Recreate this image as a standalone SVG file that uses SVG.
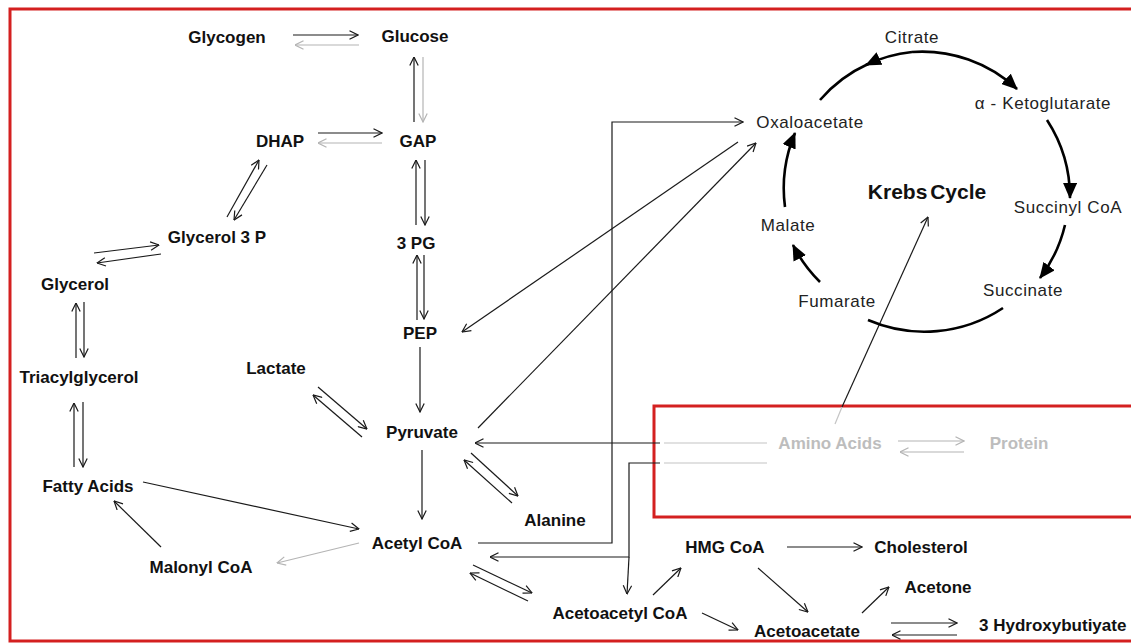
<svg xmlns="http://www.w3.org/2000/svg" width="1131" height="644" viewBox="0 0 1131 644">
  <style>
    .lbl { font-family: "Liberation Sans", Arial, sans-serif; font-weight: bold; font-size: 17px; fill: #111; text-anchor: middle; }
    .lbl-g { font-family: "Liberation Sans", Arial, sans-serif; font-weight: bold; font-size: 17px; fill: #bdbdbd; text-anchor: middle; }
    .kr { font-family: "Liberation Sans", Arial, sans-serif; font-size: 17px; fill: #222; text-anchor: middle; letter-spacing: 0.6px; }
    .kr-title { font-family: "Liberation Sans", Arial, sans-serif; font-weight: bold; font-size: 21px; fill: #111; text-anchor: middle; word-spacing: -3px; }
    .ln { fill: none; stroke: #1a1a1a; stroke-width: 1.2; marker-end: url(#ah); }
    .ln-plain { fill: none; stroke: #1a1a1a; stroke-width: 1.2; }
    .ln-g { fill: none; stroke: #b4b4b4; stroke-width: 1.2; marker-end: url(#ahg); }
    .ln-g-plain { fill: none; stroke: #c4c4c4; stroke-width: 1.2; }
    .cyc { fill: none; stroke: #000; stroke-width: 2.6; }
    .cyc-a { fill: none; stroke: #000; stroke-width: 2.6; marker-end: url(#tri); }
    .frame { fill: none; stroke: #d42020; stroke-width: 3; }
  </style>
  <defs>
    <marker id="ah" viewBox="0 0 10 10" refX="9.5" refY="5" markerWidth="10" markerHeight="10" markerUnits="userSpaceOnUse" orient="auto">
      <path d="M1,0.8 L9.5,5 L1,9.2" fill="none" stroke="#1a1a1a" stroke-width="1.2"/>
    </marker>
    <marker id="ahg" viewBox="0 0 10 10" refX="9.5" refY="5" markerWidth="10" markerHeight="10" markerUnits="userSpaceOnUse" orient="auto">
      <path d="M1,0.8 L9.5,5 L1,9.2" fill="none" stroke="#b4b4b4" stroke-width="1.2"/>
    </marker>
    <marker id="tri" viewBox="0 0 16 14" refX="15" refY="7" markerWidth="16" markerHeight="14" markerUnits="userSpaceOnUse" orient="auto">
      <path d="M0,0 L16,7 L0,14 z" fill="#000"/>
    </marker>
  </defs>

  <rect width="1131" height="644" fill="#fff"/>

  <!-- outer and amino-acid frames -->
  <rect class="frame" x="10" y="9" width="1130" height="632"/>
  <rect class="frame" x="654" y="406" width="500" height="111"/>

  <!-- connectors -->
  <g id="connectors">
    <!-- glycogen / glucose -->
    <path class="ln" d="M293,35 H358"/>
    <path class="ln-g" d="M359,45 H295"/>
    <!-- glucose / GAP -->
    <path class="ln" d="M414,122 V57"/>
    <path class="ln-g" d="M423,57 V122"/>
    <!-- DHAP / GAP -->
    <path class="ln" d="M318,133 H382"/>
    <path class="ln-g" d="M382,143 H318"/>
    <!-- DHAP / glycerol 3 P -->
    <path class="ln" d="M227,217 L259,160"/>
    <path class="ln" d="M267,165 L234,220"/>
    <!-- glycerol / glycerol 3 P -->
    <path class="ln" d="M94,253 L159,245"/>
    <path class="ln" d="M161,254 L97,263"/>
    <!-- glycerol / triacylglycerol -->
    <path class="ln" d="M76,358 V303"/>
    <path class="ln" d="M84,302 V357"/>
    <!-- triacylglycerol / fatty acids -->
    <path class="ln" d="M74,467 V403"/>
    <path class="ln" d="M83,402 V467"/>
    <!-- GAP / 3 PG -->
    <path class="ln" d="M416,225 V160"/>
    <path class="ln" d="M425,160 V225"/>
    <!-- 3 PG / PEP -->
    <path class="ln" d="M417,320 V255"/>
    <path class="ln" d="M424,255 V319"/>
    <!-- PEP -> pyruvate -->
    <path class="ln" d="M420,347 V412"/>
    <!-- lactate / pyruvate -->
    <path class="ln" d="M318,387 L367,429"/>
    <path class="ln" d="M362,437 L313,395"/>
    <!-- pyruvate -> acetyl CoA -->
    <path class="ln" d="M422,450 V519"/>
    <!-- pyruvate / alanine -->
    <path class="ln" d="M471,453 L518,496"/>
    <path class="ln" d="M512,503 L464,460"/>
    <!-- fatty acids -> acetyl CoA -->
    <path class="ln" d="M143,482 L359,529"/>
    <!-- malonyl CoA -> fatty acids -->
    <path class="ln" d="M161,547 L114,501"/>
    <!-- acetyl CoA -> malonyl CoA -->
    <path class="ln-g" d="M359,543 L277,563"/>
    <!-- oxaloacetate -> PEP -->
    <path class="ln" d="M738,142 L462,332"/>
    <!-- pyruvate -> oxaloacetate -->
    <path class="ln" d="M478,428 L756,143"/>
    <!-- acetyl CoA -> oxaloacetate -->
    <path class="ln" d="M478,543 H612 V122 H743"/>
    <!-- amino acids -> pyruvate -->
    <path class="ln" d="M660,443 H475"/>
    <path class="ln-g-plain" d="M664,443 H767"/>
    <!-- amino acids -> acetyl CoA / acetoacetyl CoA -->
    <path class="ln" d="M660,463 H629 V557 H490"/>
    <path class="ln" d="M629,557 L627,594"/>
    <path class="ln-g-plain" d="M664,463 H767"/>
    <!-- acetyl CoA / acetoacetyl CoA -->
    <path class="ln" d="M473,565 L532,593"/>
    <path class="ln" d="M528,601 L470,573"/>
    <!-- ketone body branch -->
    <path class="ln" d="M653,595 L681,568"/>
    <path class="ln" d="M787,547 H862"/>
    <path class="ln" d="M702,613 L738,630"/>
    <path class="ln" d="M758,568 L808,612"/>
    <path class="ln" d="M862,613 L889,587"/>
    <path class="ln" d="M891,623 H957"/>
    <path class="ln" d="M957,635 H892"/>
    <!-- amino acids / protein -->
    <path class="ln-g" d="M898,441 H964"/>
    <path class="ln-g" d="M964,452 H900"/>
    <!-- amino acids -> Krebs cycle -->
    <path class="ln-g-plain" d="M835,424 L842,407"/>
    <path class="ln" d="M842,407 L928,217"/>

    <!-- Krebs cycle arcs -->
    <path class="cyc-a" d="M912,52 A139,139 0 0,0 866,65"/>
    <path class="cyc" d="M868,64 A139,139 0 0,0 820,100"/>
    <path class="cyc-a" d="M912,52 A139,139 0 0,1 1017,89"/>
    <path class="cyc-a" d="M1047,120 A142,142 0 0,1 1070,198"/>
    <path class="cyc-a" d="M1065,225 A142,142 0 0,1 1040,278"/>
    <path class="cyc" d="M1003,308 A142,142 0 0,1 868,320"/>
    <path class="cyc-a" d="M820,282 A142,142 0 0,1 793,245"/>
    <path class="cyc-a" d="M785,207 A142,142 0 0,1 795,133"/>
  </g>

  <!-- metabolite nodes -->
  <g id="n-glycogen"><text class="lbl" x="227" y="43">Glycogen</text></g>
  <g id="n-glucose"><text class="lbl" x="415" y="42">Glucose</text></g>
  <g id="n-dhap"><text class="lbl" x="280" y="147">DHAP</text></g>
  <g id="n-gap"><text class="lbl" x="418" y="147">GAP</text></g>
  <g id="n-glycerol3p"><text class="lbl" x="217" y="243">Glycerol 3 P</text></g>
  <g id="n-glycerol"><text class="lbl" x="75" y="290">Glycerol</text></g>
  <g id="n-3pg"><text class="lbl" x="416" y="249">3 PG</text></g>
  <g id="n-tag"><text class="lbl" x="79" y="383">Triacylglycerol</text></g>
  <g id="n-pep"><text class="lbl" x="420" y="339">PEP</text></g>
  <g id="n-lactate"><text class="lbl" x="276" y="374">Lactate</text></g>
  <g id="n-pyruvate"><text class="lbl" x="422" y="438">Pyruvate</text></g>
  <g id="n-fattyacids"><text class="lbl" x="88" y="492">Fatty Acids</text></g>
  <g id="n-alanine"><text class="lbl" x="555" y="526">Alanine</text></g>
  <g id="n-acetylcoa"><text class="lbl" x="417" y="549">Acetyl CoA</text></g>
  <g id="n-malonylcoa"><text class="lbl" x="201" y="573">Malonyl CoA</text></g>
  <g id="n-hmgcoa"><text class="lbl" x="725" y="553">HMG CoA</text></g>
  <g id="n-cholesterol"><text class="lbl" x="921" y="553">Cholesterol</text></g>
  <g id="n-acetone"><text class="lbl" x="938" y="593">Acetone</text></g>
  <g id="n-acetoacetylcoa"><text class="lbl" x="620" y="619">Acetoacetyl CoA</text></g>
  <g id="n-acetoacetate"><text class="lbl" x="807" y="637">Acetoacetate</text></g>
  <g id="n-3hb"><text class="lbl" x="979" y="631" style="text-anchor:start">3 Hydroxybutiyate</text></g>
  <g id="n-aminoacids"><text class="lbl-g" x="830" y="449">Amino Acids</text></g>
  <g id="n-protein"><text class="lbl-g" x="1019" y="449">Protein</text></g>

  <!-- Krebs cycle nodes -->
  <g id="n-krebs"><text class="kr-title" x="927" y="199">Krebs Cycle</text></g>
  <g id="n-citrate"><text class="kr" x="912" y="43">Citrate</text></g>
  <g id="n-akg"><text class="kr" x="1043" y="109">α - Ketoglutarate</text></g>
  <g id="n-succinylcoa"><text class="kr" x="1068" y="213">Succinyl CoA</text></g>
  <g id="n-succinate"><text class="kr" x="1023" y="296">Succinate</text></g>
  <g id="n-fumarate"><text class="kr" x="837" y="307">Fumarate</text></g>
  <g id="n-malate"><text class="kr" x="788" y="231">Malate</text></g>
  <g id="n-oxaloacetate"><text class="kr" x="810" y="128">Oxaloacetate</text></g>
</svg>
